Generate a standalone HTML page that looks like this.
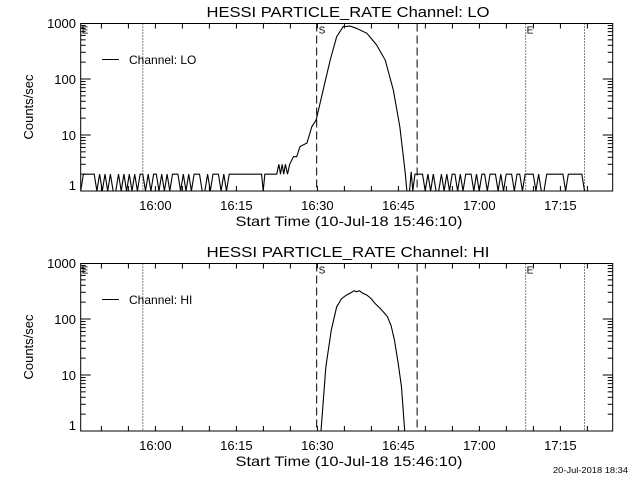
<!DOCTYPE html>
<html><head><meta charset="utf-8"><style>
html,body{margin:0;padding:0;background:#fff;}
svg{display:block;font-family:"Liberation Sans",sans-serif;}
</style></head><body>
<svg id="chart" width="640" height="480" viewBox="0 0 640 480" xmlns="http://www.w3.org/2000/svg"></svg>
<script>
// ---- data (time in minutes after 15:46:10) ----
const xTickLabels = ["16:00","16:15","16:30","16:45","17:00","17:15"];
const xTickLabelTimes = [13.833,28.833,43.833,58.833,73.833,88.833];
const yTickValues = [1,10,100,1000];
const yTickLabels = ["1","10","100","1000"];
const loLeftNoise = [1,2,2,2,2,2,1,2,1,2,1,2,1,1,2,1,2,1,2,1,2,1,2,2,1,2,1,2,2,1,2,1,2,1,2,2,2,1,2,1,2,1,2,2,2,1,1,2,1,2,2,2,1,2,1,2,2];
const loMidTimes = [28.5,33.5,33.8,34.1,36.3,36.7,37.0,37.3,37.6,37.9,38.3,38.7,39.4,40.0,40.6,41.9,42.8,43.6,44.6,46.2,47.4,48.6,49.9,51.1,53.0,54.8,56.4,57.9,59.1,60.1,60.4,60.9,61.2,61.5,61.9,62.3];
const loMidValues = [2,2,1,2,2,3,2,3,2,3,2,3,4.1,4.1,6.2,7.2,14.1,18.5,48,217,570,860,880,800,655,405,217,63,14,2.1,1,1,2.2,1,2,2];
const loRightNoise = [2,1,2,1,2,1,1,2,1,2,1,2,2,1,2,1,2,2,2,1,2,1,2,2,1,2,2,2,1,2,1,2,2,2,1,2,2,1,2,2,2,2,1,2,1,1,2,2,2,2,2,2,2,1,2,2,2,2,2,2,1,1,1,1,1,1,1,1,1,1,1];
const loRightStart = 62.8;
const hiTimes = [44.5,45.4,46.4,47.4,48.3,49.2,50.2,50.6,51.1,51.6,52.2,53.0,53.8,54.5,55.6,56.8,57.5,58.1,58.8,59.4,60.0];
const hiValues = [1,14,63,165,230,267,300,320,306,320,290,267,230,190,150,110,75,42,16,6.2,1];
const dottedTimes = [11.5,82.4,93.3];
const dashedTimes = [43.7,62.3];
const sTime = 43.7, eTime = 82.4;

// ---- layout ----
const X0 = 80.7, X1 = 612.7, TMAX = (X1-X0)/5.4;
const DEC = 56;
const svg = document.getElementById('chart');
const NS = "http://www.w3.org/2000/svg";
function xs(t){ return X0 + (t/TMAX)*(X1-X0); }
function mk(tag, attrs, parent){
  const e = document.createElementNS(NS, tag);
  for (const k in attrs) e.setAttribute(k, attrs[k]);
  (parent||svg).appendChild(e); return e;
}
function buildLo(){
  const pts=[];
  loLeftNoise.forEach((v,i)=>pts.push([i*0.5,v]));
  loMidTimes.forEach((t,i)=>pts.push([t,loMidValues[i]]));
  loRightNoise.forEach((v,i)=>pts.push([loRightStart+0.5*(i+1),v]));
  return pts;
}
function panel(off, chName, pts, idx){
  const yBot = 191+off, yTop = 23.5+off;
  const ys = v => yBot - DEC*Math.log10(v);
  const g = mk('g',{});
  
  
  const title = mk('text',{x:348,y:17+off,'text-anchor':'middle','font-size':'15',fill:'#000',textLength:'283',lengthAdjust:'spacingAndGlyphs'},g);
  title.textContent = 'HESSI PARTICLE_RATE Channel: '+chName;
  
  
  const frame = mk('rect',{x:X0,y:yTop,width:X1-X0,height:yBot-yTop,fill:'none',stroke:'#000','stroke-width':'1'},g);
  
  
  // y ticks
  for (let d=0; d<3; d++){
    for (let m=1;m<10;m++){
      const v = Math.pow(10,d)*m; const y = ys(v);
      if (y < yTop) continue;
      const L = m===1?10:5;
      if (m===1 && d===0) continue;
      mk('line',{x1:X0,x2:X0+L,y1:y,y2:y,stroke:'#000'},g);
      mk('line',{x1:X1,x2:X1-L,y1:y,y2:y,stroke:'#000'},g);
    }
  }
  yTickValues.forEach((v,i)=>{
    const y = ys(v);
    const t = mk('text',{x:76,y:Math.min(y+5,yBot-1),'text-anchor':'end','font-size':'13',fill:'#000'},g);
    t.textContent = yTickLabels[i];
    
    
  });
  // x ticks every 5 min
  for (let t=3.833; t<TMAX; t+=5){
    const x = xs(t);
    mk('line',{x1:x,x2:x,y1:yBot,y2:yBot-5,stroke:'#000'},g);
    mk('line',{x1:x,x2:x,y1:yTop,y2:yTop+5,stroke:'#000'},g);
  }
  xTickLabels.forEach((s,i)=>{
    const t = mk('text',{x:xs(xTickLabelTimes[i]),y:210+off,'text-anchor':'middle','font-size':'13',fill:'#000'},g);
    t.textContent = s;
    
    
  });
  const xt = mk('text',{x:349,y:226+off,'text-anchor':'middle','font-size':'14',fill:'#000',textLength:'227',lengthAdjust:'spacingAndGlyphs'},g);
  xt.textContent = 'Start Time (10-Jul-18 15:46:10)';
  
  
  const yt = mk('text',{x:0,y:0,'text-anchor':'middle','font-size':'13',fill:'#000',transform:`translate(33,${107+off}) rotate(-90)`},g);
  yt.textContent = 'Counts/sec';
  
  
  // reference lines
  dottedTimes.forEach(t=>{
    const l = mk('line',{x1:xs(t),x2:xs(t),y1:yTop,y2:yBot,stroke:'#000','stroke-dasharray':'1,2'},g);
    
    
  });
  dashedTimes.forEach(t=>{
    const l = mk('line',{x1:xs(t),x2:xs(t),y1:yTop,y2:yBot,stroke:'#000','stroke-dasharray':'8,4'},g);
    
    
  });
  const st = mk('text',{x:xs(sTime)+2,y:yTop+10,'font-size':'10',fill:'#000'},g); st.textContent='S';
  
  
  const et = mk('text',{x:xs(eTime)+1,y:yTop+10,'font-size':'10',fill:'#000'},g); et.textContent='E';
  
  
  const e0 = mk('text',{x:X0+1,y:yTop+10,'font-size':'10',fill:'#000'},g); e0.textContent='E';
  
  
  mk('rect',{x:X0+1,y:yTop+3,width:2,height:2,fill:'#000'},g);
  // legend
  mk('line',{x1:102,x2:119,y1:59.5+off,y2:59.5+off,stroke:'#000'},g);
  const lg = mk('text',{x:129,y:64+off,'font-size':'12',fill:'#000'},g);
  lg.textContent = 'Channel: '+chName;
  
  
  // series
  const cp = mk('clipPath',{id:'clip'+idx},g);
  mk('rect',{x:X0,y:yTop,width:X1-X0,height:yBot-yTop},cp);
  const d = pts.map((p,i)=>(i?'L':'M')+xs(p[0]).toFixed(2)+','+ys(p[1]).toFixed(2)).join(' ');
  const path = mk('path',{d:d,fill:'none',stroke:'#000','stroke-width':'1.1','clip-path':`url(#clip${idx})`},g);
  
  
}
panel(0,'LO',buildLo(),0);
panel(240,'HI',hiTimes.map((t,i)=>[t,hiValues[i]]),1);
const ds = mk('text',{x:553,y:473,'font-size':'8',fill:'#000',textLength:'75',lengthAdjust:'spacingAndGlyphs'});
ds.textContent = '20-Jul-2018 18:34';


</script>
</body></html>
